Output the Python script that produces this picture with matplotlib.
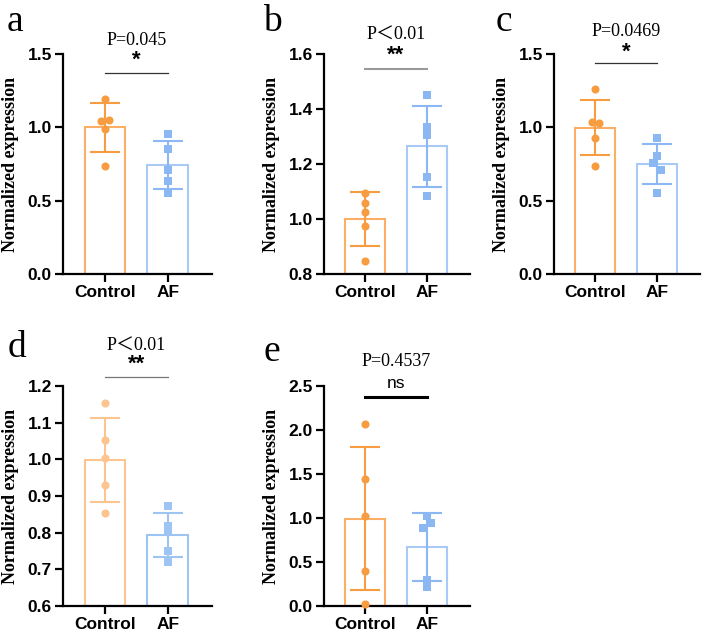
import numpy as np
import matplotlib
matplotlib.use("Agg")
import matplotlib.pyplot as plt

categories = ["Control", "AF"]

# panel data (individual points)
a_ctrl = [1.19, 1.04, 1.05, 0.99, 0.735]
a_af = [0.957, 0.851, 0.708, 0.633, 0.554]
b_ctrl = [1.094, 1.060, 1.025, 0.974, 0.847]
b_af = [1.451, 1.334, 1.304, 1.151, 1.083]
c_ctrl = [1.259, 1.039, 1.032, 0.926, 0.738]
c_af = [0.930, 0.806, 0.756, 0.710, 0.551]
d_ctrl = [1.153, 1.052, 1.005, 0.930, 0.854]
d_af = [0.873, 0.818, 0.802, 0.750, 0.719]
e_ctrl = [2.068, 1.439, 1.023, 0.398, 0.023]
e_af = [1.019, 0.947, 0.886, 0.299, 0.216]

# horizontal jitter of points (in category units)
a_jit_c = [0, -0.3, 0.3, 0, 0]
a_jit_a = [0, 0, 0, 0, 0]
b_jit_c = [0, 0, 0, 0, 0]
b_jit_a = [0, 0, 0, 0, 0]
c_jit_c = [0, -0.28, 0.3, 0, 0]
c_jit_a = [0, 0, -0.3, 0.3, 0]
d_jit_c = [0, 0, 0, 0, 0]
d_jit_a = [0, 0, 0, 0, 0]
e_jit_c = [0, 0, 0, 0, 0]
e_jit_a = [0, 0.3, -0.3, 0, 0]

p_texts = ["P=0.045", "P\uff1c0.01", "P=0.0469", "P\uff1c0.01", "P=0.4537"]
stars = ["*", "**", "*", "**", "ns"]
letters = ["a", "b", "c", "d", "e"]
ylims = [(0, 1.5), (0.8, 1.6), (0, 1.5), (0.6, 1.2), (0, 2.5)]
yticks = [[0, 0.5, 1.0, 1.5], [0.8, 1.0, 1.2, 1.4, 1.6], [0, 0.5, 1.0, 1.5],
          [0.6, 0.7, 0.8, 0.9, 1.0, 1.1, 1.2], [0, 0.5, 1.0, 1.5, 2.0, 2.5]]
# annotation y-positions (data coords): line, star, p-text
line_y = [1.369, 1.546, 1.437, 1.2245, 2.375]
star_y = [1.455, 1.594, 1.512, 1.26, 2.534]
ptext_y = [1.595, 1.669, 1.65, 1.309, 2.784]

panels = [(a_ctrl, a_af, a_jit_c, a_jit_a), (b_ctrl, b_af, b_jit_c, b_jit_a),
          (c_ctrl, c_af, c_jit_c, c_jit_a), (d_ctrl, d_af, d_jit_c, d_jit_a),
          (e_ctrl, e_af, e_jit_c, e_jit_a)]

orange = "#F79C40"
orange_bar = "#FBAE66"
blue = "#8BB8F2"
blue_bar = "#A8CAF5"
orange_d = "#FCC48E"
blue_d = "#9EC4F4"

W, H = 708, 639
fig = plt.figure(figsize=(W / 100, H / 100), dpi=100)

# axes pixel rects: left, top(0-axis bottom), width
rects = [(63, 274, 149), (324, 274, 146), (554, 274, 146), (63, 606, 149), (324, 606, 146)]
ax_h = 220
letter_pos = [(15, 22), (272, 22), (504, 22), (17, 348), (272, 352)]
line_style = [("#333333", 0.9), ("#999999", 1.5), ("#333333", 0.9), ("#777777", 0.9), ("#000000", 2.2)]

for i, (ctrl, af, jc, ja) in enumerate(panels):
    l, b, w = rects[i]
    ax = fig.add_axes([l / W, 1 - b / H, w / W, ax_h / H])
    oc, ob, bc, bb = orange, orange_bar, blue, blue_bar
    if i == 3:
        oc, ob, bc, bb = orange_d, orange_d, blue_d, blue_d
    ymin = ylims[i][0]
    for k, (vals, jit, pc, ec, mk) in enumerate([(ctrl, jc, oc, ob, "o"), (af, ja, bc, bb, "s")]):
        vals = np.array(vals)
        m = vals.mean()
        sd = vals.std(ddof=1)
        ax.bar(k, m - ymin, bottom=ymin, width=0.65, facecolor="white", edgecolor=ec,
               linewidth=1.5, zorder=2)
        ax.errorbar(k, m, yerr=sd, fmt="none", ecolor=pc, elinewidth=1.5, capsize=11,
                    capthick=1.5, zorder=3)
        xs = k + np.array(jit) * 0.2
        ax.scatter(xs, vals, marker=mk, s=34, color=pc, zorder=4, linewidths=0, clip_on=False)
    ax.set_xlim(-0.667, 1.70)
    ax.set_ylim(*ylims[i])
    ax.set_yticks(yticks[i])
    ax.set_yticklabels([f"{t:.1f}" for t in yticks[i]])
    ax.set_xticks([0, 1])
    ax.set_xticklabels(categories)
    for s in ["top", "right"]:
        ax.spines[s].set_visible(False)
    for s in ["left", "bottom"]:
        ax.spines[s].set_linewidth(1.6)
    ax.tick_params(axis="both", direction="out", length=6, width=1.6, labelsize=12.5, pad=2)
    for t in ax.get_xticklabels() + ax.get_yticklabels():
        t.set_fontweight("bold")
        t.set_fontfamily("Liberation Sans")
    ax.set_ylabel("Normalized expression", fontsize=13, fontweight="bold",
                  fontfamily="Liberation Serif", labelpad=6)
    lc, lw = line_style[i]
    ax.plot([0, 1], [line_y[i], line_y[i]], color=lc, linewidth=lw, clip_on=False, zorder=5)
    if stars[i] == "ns":
        ax.text(0.5, star_y[i], stars[i], ha="center", va="center", fontsize=12.5,
                fontfamily="Liberation Sans")
    else:
        ax.text(0.5, star_y[i], stars[i], ha="center", va="center", fontsize=16,
                fontweight="bold", fontfamily="Liberation Sans")
    ax.text(0.5, ptext_y[i], p_texts[i], ha="center", va="center", fontsize=13,
            fontfamily=["Liberation Serif", "Noto Sans CJK SC"])
    lx, ly = letter_pos[i]
    fig.text(lx / W, 1 - ly / H, letters[i], ha="center", va="center", fontsize=27,
             fontfamily="Liberation Serif")

fig.savefig("out.png", dpi=100)
